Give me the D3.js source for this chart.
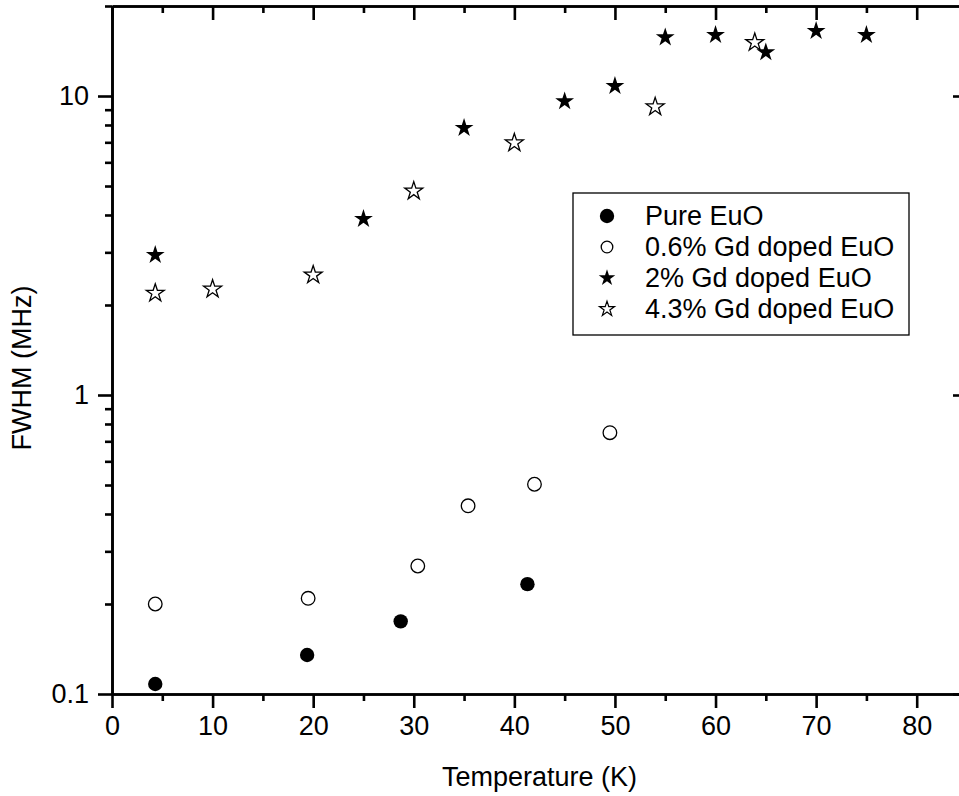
<!DOCTYPE html>
<html>
<head>
<meta charset="utf-8">
<script src="https://cdn.jsdelivr.net/npm/d3@7"></script>
<style>
  body { margin: 0; background: #fff; }
  svg { display: block; font-family: "Liberation Sans", Arial, sans-serif; }
</style>
</head>
<body>
<div id="chart"></div>
<script>
// FWHM vs temperature, log y axis

const seriesNames = ["Pure EuO", "0.6% Gd doped EuO", "2% Gd doped EuO", "4.3% Gd doped EuO"];

const pureT = [4.3, 19.4, 28.7, 41.3];
const pureW = [0.108, 0.135, 0.175, 0.233];

const gd06T = [4.3, 19.5, 30.4, 35.4, 42.0, 49.5];
const gd06W = [0.200, 0.209, 0.268, 0.426, 0.503, 0.748];

const gd2T = [4.3, 25, 35, 45, 50, 55, 60, 65, 70, 75];
const gd2W = [2.94, 3.88, 7.82, 9.6, 10.8, 15.7, 16.0, 14.0, 16.5, 16.0];

const gd43T = [4.3, 10, 20, 30, 40, 54, 63.9];
const gd43W = [2.19, 2.26, 2.52, 4.81, 6.97, 9.2, 15.1];

const xTicks = [0, 10, 20, 30, 40, 50, 60, 70, 80];
const yTicks = [0.1, 1, 10];
const yTickLabels = ["0.1", "1", "10"];

const W = 959, H = 796;
const margin = { top: 6, left: 112 };
const plotW = 855, plotH = 688;

const svg = d3.select("#chart").append("svg")
  .attr("width", W)
  .attr("height", H);

const x = d3.scaleLinear().domain([0, 85]).range([margin.left, margin.left + plotW]);
const y = d3.scaleLog().domain([0.1, 20]).range([margin.top + plotH, margin.top]);

const xMinor = d3.range(5, 85, 10);
const yMinor = [];
[0.1, 1, 10].forEach(d => { for (let k = 2; k <= 9; k++) if (d * k <= 20) yMinor.push(d * k); });

const fs = 27;
const axisW = 2.6;

// axes: bottom/left ticks point out, top/right ticks point in
const axBottom = svg.append("g")
  .attr("transform", `translate(0,${y(0.1)})`)
  .call(d3.axisBottom(x).tickValues(xTicks).tickSize(14).tickPadding(8).tickSizeOuter(0));
axBottom.append("g")
  .call(d3.axisBottom(x).tickValues(xMinor).tickSize(7).tickFormat("").tickSizeOuter(0));

const axTop = svg.append("g")
  .attr("transform", `translate(0,${y(20)})`)
  .call(d3.axisTop(x).tickValues(xTicks).tickSize(-14).tickFormat("").tickSizeOuter(0));
axTop.append("g")
  .call(d3.axisTop(x).tickValues(xMinor).tickSize(-7).tickFormat("").tickSizeOuter(0));

const axLeft = svg.append("g")
  .attr("transform", `translate(${x(0)},0)`)
  .call(d3.axisLeft(y).tickValues(yTicks).tickSize(14).tickPadding(9)
    .tickFormat((d, i) => yTickLabels[i]).tickSizeOuter(0));
axLeft.append("g")
  .call(d3.axisLeft(y).tickValues(yMinor).tickSize(7).tickFormat("").tickSizeOuter(0));

const axRight = svg.append("g")
  .attr("transform", `translate(${x(85)},0)`)
  .call(d3.axisRight(y).tickValues(yTicks).tickSize(-14).tickFormat("").tickSizeOuter(0));
axRight.append("g")
  .call(d3.axisRight(y).tickValues(yMinor).tickSize(-7).tickFormat("").tickSizeOuter(0));

svg.selectAll(".domain").attr("stroke", "#000").attr("stroke-width", axisW);
svg.selectAll(".tick line").attr("stroke", "#000").attr("stroke-width", axisW);
svg.selectAll(".tick text")
  .attr("fill", "#000")
  .style("font-size", fs + "px")
  .style("font-family", "'Liberation Sans', Arial, sans-serif");

// axis titles
svg.append("text")
  .attr("x", x(42.5))
  .attr("y", 786)
  .attr("text-anchor", "middle")
  .style("font-size", fs + "px")
  .text("Temperature (K)");

svg.append("text")
  .attr("transform", "translate(31,368) rotate(-90)")
  .attr("text-anchor", "middle")
  .style("font-size", fs + "px")
  .text("FWHM (MHz)");

// data marks
const star = d3.symbol().type(d3.symbolStar).size(110);
const starOpen = d3.symbol().type(d3.symbolStar).size(100);

function pts(T, Wv) { return T.map((t, i) => ({ t: t, w: Wv[i] })); }

svg.append("g").selectAll("circle")
  .data(pts(pureT, pureW))
  .join("circle")
  .attr("cx", d => x(d.t))
  .attr("cy", d => y(d.w))
  .attr("r", 7.2)
  .attr("fill", "#000");

svg.append("g").selectAll("circle")
  .data(pts(gd06T, gd06W))
  .join("circle")
  .attr("cx", d => x(d.t))
  .attr("cy", d => y(d.w))
  .attr("r", 6.8)
  .attr("fill", "#fff")
  .attr("stroke", "#000")
  .attr("stroke-width", 1.3);

svg.append("g").selectAll("path")
  .data(pts(gd43T, gd43W))
  .join("path")
  .attr("d", starOpen)
  .attr("transform", d => `translate(${x(d.t)},${y(d.w)})`)
  .attr("fill", "#fff")
  .attr("stroke", "#000")
  .attr("stroke-width", 1.3);

svg.append("g").selectAll("path")
  .data(pts(gd2T, gd2W))
  .join("path")
  .attr("d", star)
  .attr("transform", d => `translate(${x(d.t)},${y(d.w)})`)
  .attr("fill", "#000");

// legend
const lg = svg.append("g").attr("transform", "translate(573,193)");
lg.append("rect")
  .attr("width", 336)
  .attr("height", 142)
  .attr("fill", "#fff")
  .attr("stroke", "#000")
  .attr("stroke-width", 1.3);

const rowY = [23, 54, 85, 116];
const legendMarks = [
  g => g.append("circle").attr("r", 7.2).attr("fill", "#000"),
  g => g.append("circle").attr("r", 5.8).attr("fill", "#fff").attr("stroke", "#000").attr("stroke-width", 1.3),
  g => g.append("path").attr("d", d3.symbol().type(d3.symbolStar).size(85)).attr("fill", "#000"),
  g => g.append("path").attr("d", d3.symbol().type(d3.symbolStar).size(70)).attr("fill", "#fff").attr("stroke", "#000").attr("stroke-width", 1.2)
];

seriesNames.forEach((name, i) => {
  const row = lg.append("g").attr("transform", `translate(0,${rowY[i]})`);
  legendMarks[i](row.append("g").attr("transform", "translate(34,0)"));
  row.append("text")
    .attr("x", 72)
    .attr("y", 0)
    .attr("dy", "0.35em")
    .style("font-size", fs + "px")
    .text(name);
});
</script>
</body>
</html>
